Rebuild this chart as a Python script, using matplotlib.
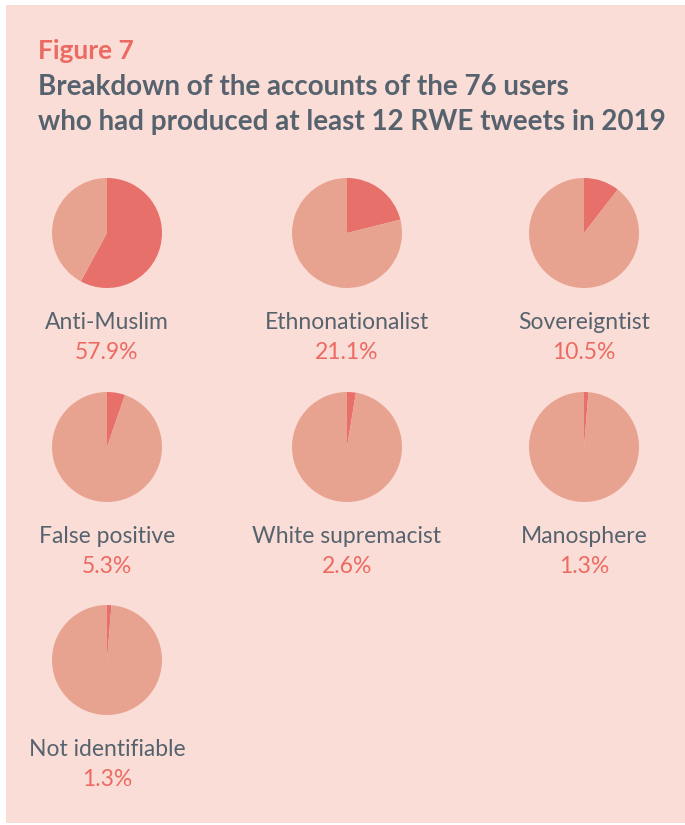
import matplotlib
matplotlib.use("Agg")
import matplotlib.pyplot as plt

categories = ["Anti-Muslim", "Ethnonationalist", "Sovereigntist",
              "False positive", "White supremacist", "Manosphere",
              "Not identifiable"]
shares = [57.9, 21.1, 10.5, 5.3, 2.6, 1.3, 1.3]

BG = "#FADDD6"
DARK = "#E8706A"
LIGHT = "#E8A390"
GREY = "#56636E"
RED = "#EC6A62"

plt.rcParams["font.family"] = ["Lato", "DejaVu Sans"]

fig = plt.figure(figsize=(6.85, 8.25), dpi=100)
fig.patch.set_facecolor("white")
W, H = 685, 825
panel = plt.Rectangle((6 / W, 2 / H), 1 - 6 / W, 1 - 7 / H, transform=fig.transFigure,
                      facecolor=BG, edgecolor="none", zorder=-1)
fig.patches.append(panel)

fig.text(38 / W, 1 - 59 / H, "Figure 7", color=RED, fontsize=19, fontweight="bold")
fig.text(38 / W, 1 - 95 / H, "Breakdown of the accounts of the 76 users",
         color=GREY, fontsize=20, fontweight="bold")
fig.text(38 / W, 1 - 130 / H, "who had produced at least 12 RWE tweets in 2019",
         color=GREY, fontsize=20, fontweight="bold")

col_x = [107, 347, 584]
row_y = [233, 447, 660]
r = 55

for i, (name, pct) in enumerate(zip(categories, shares)):
    cx, cy = col_x[i % 3], row_y[i // 3]
    ax = fig.add_axes([(cx - r) / W, 1 - (cy + r) / H, 2 * r / W, 2 * r / H])
    ax.pie([pct, 100 - pct], colors=[DARK, LIGHT], startangle=90,
           counterclock=False, wedgeprops=dict(linewidth=0), radius=1)
    ax.set_xlim(-1, 1)
    ax.set_ylim(-1, 1)
    ax.set_aspect("equal")
    ax.axis("off")
    fig.text(cx / W, 1 - (cy + 96) / H, name, color=GREY, fontsize=16.5,
             ha="center", va="baseline")
    fig.text(cx / W, 1 - (cy + 126) / H, f"{pct:.1f}%", color=RED, fontsize=16.5,
             ha="center", va="baseline")

fig.savefig("out.png", dpi=100, facecolor=fig.get_facecolor())
